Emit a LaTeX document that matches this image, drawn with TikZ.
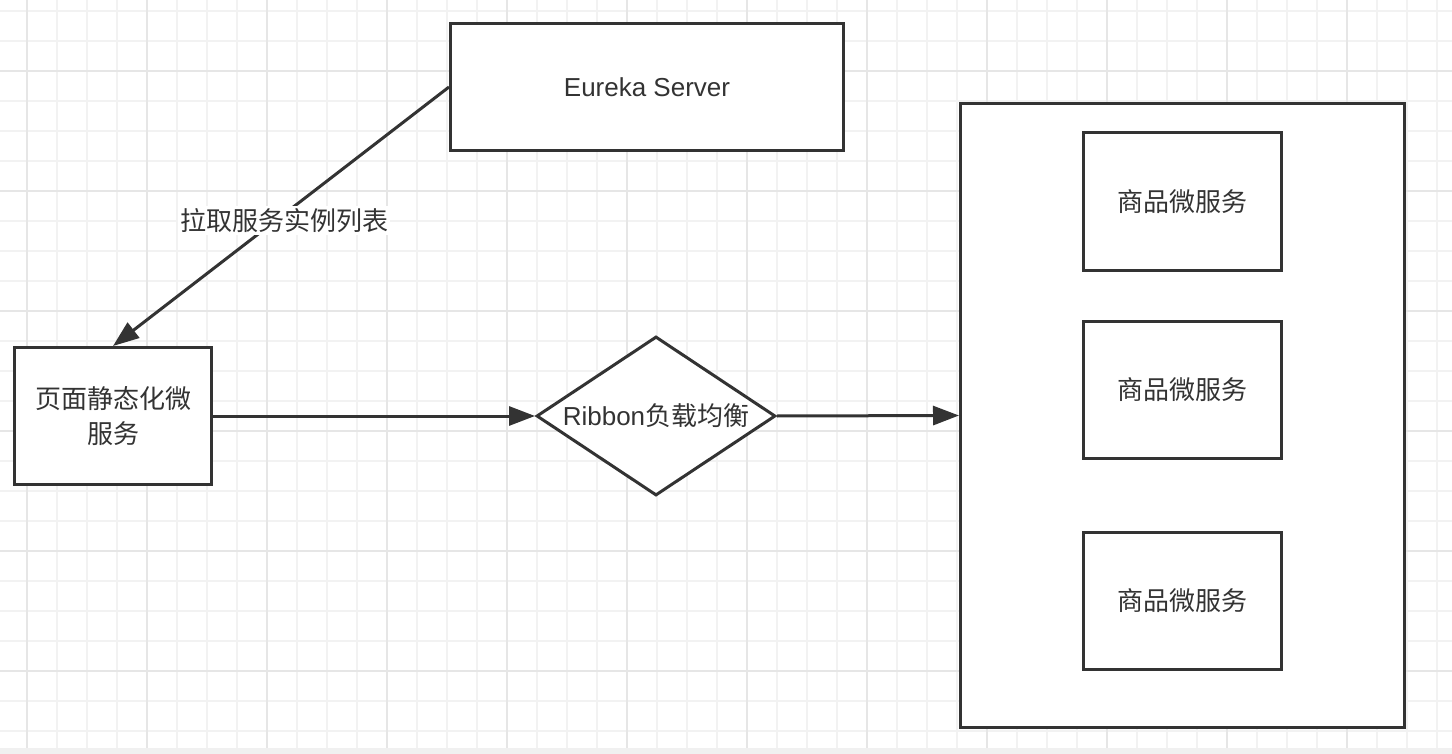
\documentclass[tikz,border=0pt]{standalone}
\usepackage{fontspec}
\setmainfont{Liberation Sans}
\newfontfamily\cjk{Noto Sans CJK SC}
\usetikzlibrary{arrows.meta,shapes.geometric}
\definecolor{ink}{HTML}{333333}
\definecolor{gridminor}{HTML}{F2F2F2}
\definecolor{gridmajor}{HTML}{E6E6E6}
\definecolor{strip}{HTML}{F0F0F0}
\tikzset{
  box/.style={draw=ink, line width=3pt, fill=white, inner sep=0pt, font=\fontsize{26}{35}\selectfont\cjk, text=ink, align=center},
  diamondbox/.style={draw=ink, line width=3pt, fill=white, diamond, inner sep=0pt, minimum width=239pt, minimum height=159pt},
  txt/.style={font=\fontsize{26}{35}\selectfont, text=ink, inner sep=0pt},
  conn/.style={draw=ink, line width=3pt, -{Triangle[length=26pt,width=19pt]}},
  lbl/.style={fill=white, font=\fontsize{26}{35}\selectfont\cjk, text=ink, inner sep=2pt}
}
\begin{document}
\begin{tikzpicture}[x=1pt,y=-1pt]
\useasboundingbox (0,0) rectangle (1452,754);
\fill[white] (0,0) rectangle (1452,754);
% grid
\foreach \gx in {27,57,...,1437} \draw[gridminor, line width=1.5pt] (\gx,0) -- (\gx,748);
\foreach \gy in {11,41,...,731} \draw[gridminor, line width=1.5pt] (0,\gy) -- (1452,\gy);
\foreach \gx in {27,147,...,1437} \draw[gridmajor, line width=1.5pt] (\gx,0) -- (\gx,748);
\foreach \gy in {71,191,...,731} \draw[gridmajor, line width=1.5pt] (0,\gy) -- (1452,\gy);
\fill[strip] (0,748) rectangle (1452,754);
% nodes
\node[box, minimum width=393pt, minimum height=127pt, font=\fontsize{26}{35}\selectfont] (eureka) at (647,87) {Eureka Server};
\node[box, minimum width=197pt, minimum height=137pt] (page) at (113,416) {页面静态化微\\服务};
\node[diamondbox] (ribbon) at (656,416) {};
\node[txt] (ribbontext) at (ribbon.center) {Ribbon{\cjk 负载均衡}};
\node[box, minimum width=444pt, minimum height=624pt] (container) at (1182.5,415.5) {};
\node[box, minimum width=198pt, minimum height=138pt] (svc1) at (1182.5,202) {商品微服务};
\node[box, minimum width=198pt, minimum height=137pt] (svc2) at (1182.5,390) {商品微服务};
\node[box, minimum width=198pt, minimum height=137pt] (svc3) at (1182.5,601) {商品微服务};
% connectors
\draw[conn] (eureka.west) -- node[lbl, pos=0.5, xshift=3pt, yshift=-4pt] (pulllabel) {拉取服务实例列表} (page.north);
\draw[conn] (page.east) -- (ribbon.west);
\draw[conn] (ribbon.east) -- (container.west);
\end{tikzpicture}
\end{document}
